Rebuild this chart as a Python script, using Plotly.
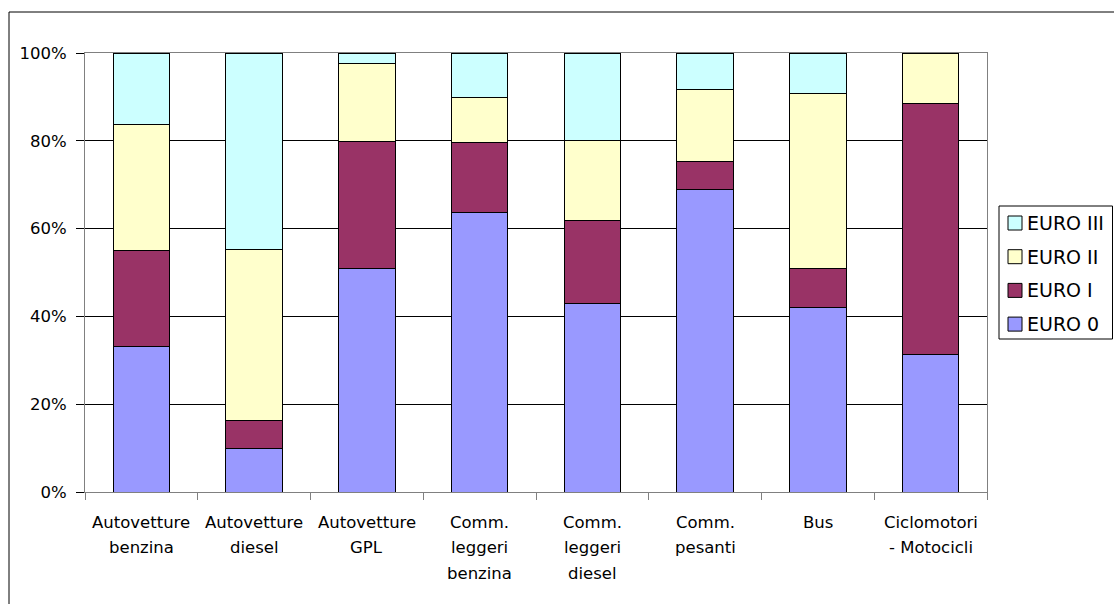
import plotly.graph_objects as go

# Vehicle categories (each entry split into the lines shown under the axis)
category_lines = [
    ["Autovetture", "benzina"],
    ["Autovetture", "diesel"],
    ["Autovetture", "GPL"],
    ["Comm.", "leggeri", "benzina"],
    ["Comm.", "leggeri", "diesel"],
    ["Comm.", "pesanti"],
    ["Bus"],
    ["Ciclomotori", "- Motocicli"],
]
categories = [" ".join(lines) for lines in category_lines]

# Share of the fleet by emission standard (%)
euro_0 = [33.1, 10.0, 50.8, 63.6, 43.0, 68.9, 42.0, 31.4]
euro_1 = [22.0, 6.3, 29.1, 16.1, 18.9, 6.4, 8.9, 57.0]
euro_2 = [28.7, 39.0, 17.7, 10.1, 18.2, 16.4, 39.9, 11.6]
euro_3 = [16.2, 44.7, 2.4, 10.2, 19.9, 8.3, 9.2, 0.0]

series = [
    ("EURO 0", euro_0, "#9999FF"),
    ("EURO I", euro_1, "#993366"),
    ("EURO II", euro_2, "#FFFFCC"),
    ("EURO III", euro_3, "#CCFFFF"),
]

y_ticks = [0, 20, 40, 60, 80, 100]

FONT = "DejaVu Sans"
W, H = 1114, 604
M_L, M_R, M_T, M_B = 85, 127, 53, 112
PLOT_W = W - M_L - M_R
PLOT_H = H - M_T - M_B


def px_x(px):
    """Horizontal pixel position -> paper coordinate."""
    return (px - M_L) / PLOT_W


def px_y(py):
    """Vertical pixel position (from top) -> paper coordinate."""
    return (H - M_B - py) / PLOT_H


fig = go.Figure()
for name, values, color in series:
    fig.add_trace(go.Bar(
        x=categories,
        y=values,
        name=name,
        showlegend=False,
        marker=dict(color=color, line=dict(color="#000000", width=1)),
    ))

annotations = []
shapes = [
    # outer chart frame
    dict(type="rect", xref="paper", yref="paper",
         x0=px_x(9), x1=px_x(1125), y0=px_y(615), y1=px_y(12),
         line=dict(color="#000000", width=1), layer="below"),
    # legend frame
    dict(type="rect", xref="paper", yref="paper",
         x0=px_x(999), x1=px_x(1112.5), y0=px_y(339), y1=px_y(206),
         line=dict(color="#000000", width=1), fillcolor="#FFFFFF",
         layer="above"),
]

# Multi-line category labels below the x axis
for cat, lines in zip(categories, category_lines):
    for i, line in enumerate(lines):
        annotations.append(dict(
            x=cat, xref="x", y=0, yref="paper",
            text=line, showarrow=False,
            xanchor="center", yanchor="middle",
            yshift=-(30 + i * 25.5),
            font=dict(family=FONT, size=16.5, color="#000000"),
        ))

# Legend: top of the stack listed first
for row, (name, _values, color) in enumerate(reversed(series)):
    cy = 223 + row * 33.7
    shapes.append(dict(
        type="rect", xref="paper", yref="paper",
        x0=px_x(1008), x1=px_x(1022), y0=px_y(cy + 7), y1=px_y(cy - 7),
        line=dict(color="#000000", width=1), fillcolor=color, layer="above",
    ))
    annotations.append(dict(
        x=px_x(1025), xref="paper", y=px_y(cy), yref="paper",
        text=name, showarrow=False, xanchor="left", yanchor="middle",
        font=dict(family=FONT, size=19, color="#000000"),
    ))

fig.update_layout(
    width=W,
    height=H,
    barmode="stack",
    bargap=0.5,
    paper_bgcolor="#FFFFFF",
    plot_bgcolor="#FFFFFF",
    margin=dict(l=M_L, r=M_R, t=M_T, b=M_B, pad=0, autoexpand=False),
    font=dict(family=FONT, size=16.5, color="#000000"),
    showlegend=False,
    annotations=annotations,
    shapes=shapes,
)

fig.update_xaxes(
    type="category",
    showticklabels=False,
    ticks="outside",
    tickson="boundaries",
    ticklen=7,
    tickcolor="#808080",
    showline=True,
    linecolor="#808080",
    linewidth=1,
    mirror=True,
    showgrid=False,
)

fig.update_yaxes(
    range=[0, 100],
    tickvals=y_ticks,
    ticktext=[f"{v}%" for v in y_ticks],
    ticks="outside",
    ticklen=8,
    tickcolor="#000000",
    ticklabelstandoff=6,
    showline=True,
    linecolor="#808080",
    linewidth=1,
    mirror=True,
    showgrid=True,
    gridcolor="#000000",
    gridwidth=1,
    zeroline=False,
    tickfont=dict(family=FONT, size=16.5, color="#000000"),
)

fig.write_html("out.html")
